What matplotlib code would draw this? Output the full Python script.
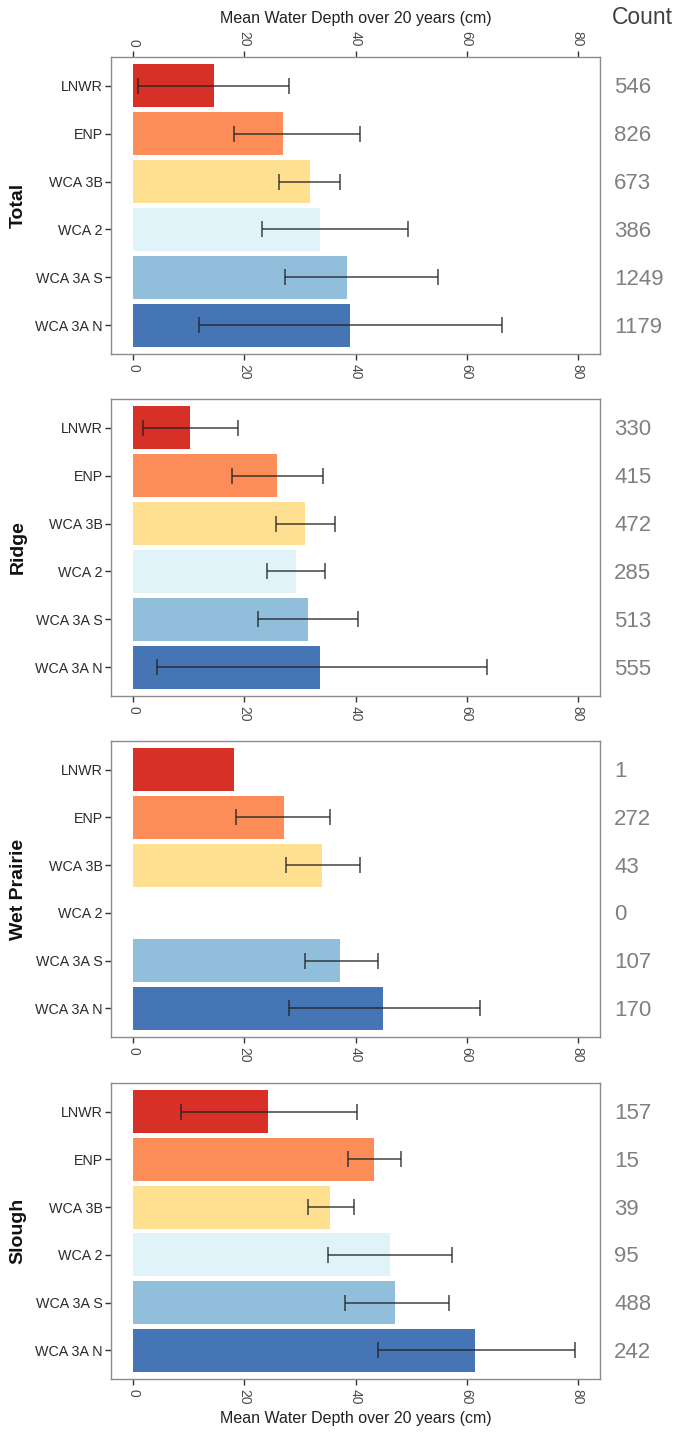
import numpy as np
import matplotlib
matplotlib.use("Agg")
import matplotlib.pyplot as plt
import matplotlib.transforms as mtransforms

plt.rcParams['font.family'] = ['Liberation Sans', 'DejaVu Sans']

SITES = ["LNWR", "ENP", "WCA 3B", "WCA 2", "WCA 3A S", "WCA 3A N"]
HABITATS = ["Total", "Ridge", "Wet Prairie", "Slough"]
COLORS = ["#D73027", "#FC8D59", "#FEE090", "#E0F3F8", "#91BFDB", "#4575B4"]

# mean depth (cm), error bar low / high ends, and sample counts per site
TOTAL_MEAN = [14.5, 27.0, 31.8, 33.6, 38.5, 39.0]
TOTAL_LOW = [0.9, 18.2, 26.2, 23.2, 27.3, 11.9]
TOTAL_HIGH = [28.1, 40.8, 37.2, 49.4, 54.8, 66.3]
TOTAL_COUNT = [546, 826, 673, 386, 1249, 1179]

RIDGE_MEAN = [10.2, 25.9, 30.9, 29.3, 31.5, 33.6]
RIDGE_LOW = [1.7, 17.8, 25.7, 24.1, 22.5, 4.3]
RIDGE_HIGH = [18.8, 34.2, 36.3, 34.5, 40.4, 63.6]
RIDGE_COUNT = [330, 415, 472, 285, 513, 555]

WETP_MEAN = [18.2, 27.1, 34.0, np.nan, 37.2, 44.9]
WETP_LOW = [np.nan, 18.5, 27.5, np.nan, 30.9, 28.0]
WETP_HIGH = [np.nan, 35.4, 40.8, np.nan, 44.0, 62.4]
WETP_COUNT = [1, 272, 43, 0, 107, 170]

SLOUGH_MEAN = [24.3, 43.3, 35.4, 46.2, 47.1, 61.5]
SLOUGH_LOW = [8.6, 38.7, 31.5, 35.1, 38.1, 44.1]
SLOUGH_HIGH = [40.3, 48.2, 39.7, 57.3, 56.8, 79.5]
SLOUGH_COUNT = [157, 15, 39, 95, 488, 242]

PANELS = [
    (TOTAL_MEAN, TOTAL_LOW, TOTAL_HIGH, TOTAL_COUNT),
    (RIDGE_MEAN, RIDGE_LOW, RIDGE_HIGH, RIDGE_COUNT),
    (WETP_MEAN, WETP_LOW, WETP_HIGH, WETP_COUNT),
    (SLOUGH_MEAN, SLOUGH_LOW, SLOUGH_HIGH, SLOUGH_COUNT),
]

XLABEL = "Mean Water Depth over 20 years (cm)"
FIG_W, FIG_H = 679, 1433
# panel boxes in pixels: top, bottom
PANEL_PX = [(57, 354), (399, 696), (741, 1037), (1083, 1379)]
LEFT_PX, RIGHT_PX = 111, 600

fig = plt.figure(figsize=(FIG_W / 100, FIG_H / 100), dpi=100)

ypos = np.arange(len(SITES))[::-1]

for k, (habitat, (mean, low, high, count)) in enumerate(zip(HABITATS, PANELS)):
    top, bot = PANEL_PX[k]
    ax = fig.add_axes([LEFT_PX / FIG_W, 1 - bot / FIG_H,
                       (RIGHT_PX - LEFT_PX) / FIG_W, (bot - top) / FIG_H])
    mean = np.array(mean, dtype=float)
    low = np.array(low, dtype=float)
    high = np.array(high, dtype=float)

    ok = ~np.isnan(mean)
    ax.barh(ypos[ok], mean[ok], height=0.9,
            color=[c for c, o in zip(COLORS, ok) if o], zorder=2)

    has_err = ~np.isnan(low)
    ax.errorbar(mean[has_err], ypos[has_err],
                xerr=[mean[has_err] - low[has_err], high[has_err] - mean[has_err]],
                fmt='none', ecolor='#222222', elinewidth=1.1, capsize=5.5,
                capthick=1.1, alpha=0.85, zorder=3)

    ax.set_xlim(-4, 84)
    ax.set_ylim(-0.6, len(SITES) - 0.4)
    ax.set_yticks(ypos)
    ax.set_yticklabels(SITES, fontsize=10.3, color='#2B2B2B')
    ax.set_xticks([0, 20, 40, 60, 80])
    ax.tick_params(axis='x', labelrotation=-90, labelsize=10,
                   labelcolor='#4D4D4D', color='#333333', length=4, width=1)
    ax.tick_params(axis='y', color='#333333', length=4, width=1, pad=2)
    for s in ax.spines.values():
        s.set_color('#8C8C8C')
        s.set_linewidth(1.0)

    if k == 0:
        ax.tick_params(axis='x', top=True, labeltop=True)
        ax.set_xlabel(XLABEL, fontsize=11.5, color='#222222', labelpad=6)
        ax.xaxis.set_label_position('top')
    if k == len(HABITATS) - 1:
        ax.set_xlabel(XLABEL, fontsize=11.5, color='#222222', labelpad=4)

    ax.text(-0.19, 0.5, habitat, transform=ax.transAxes, rotation=90,
            ha='center', va='center', fontsize=14, fontweight='bold',
            color='#111111')

    # counts to the right of each bar row
    trans = mtransforms.blended_transform_factory(ax.transAxes, ax.transData)
    for y, n in zip(ypos, count):
        ax.text(1.029, y - 0.04, str(n), transform=trans, ha='left', va='center',
                fontsize=16, color='#808080')

fig.text(612 / FIG_W, 1 - 18 / FIG_H, "Count", ha='left', va='center',
         fontsize=16.5, color='#404040')

fig.savefig("out.png", dpi=100)
